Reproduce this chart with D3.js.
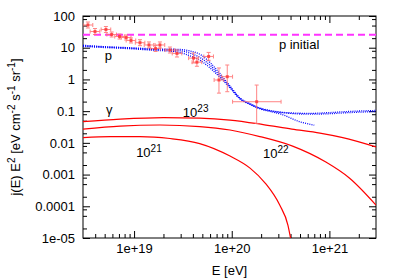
<!DOCTYPE html>
<html>
<head>
<meta charset="utf-8">
<script src="https://cdn.jsdelivr.net/npm/d3@7"></script>
<style>
body { margin: 0; background: #fff; }
text { font-family: "Liberation Sans", Arial, Helvetica, sans-serif; }
</style>
</head>
<body>
<div id="chart"></div>
<script>
// measured spectrum points (E in eV, j E^2)
const obsE   = [3.37e18, 3.98e18, 5.15e18, 5.9e18, 7.1e18, 8.3e18, 9.3e18, 1.15e19, 1.42e19, 1.66e19, 1.84e19, 2.33e19, 2.75e19, 4.06e19, 4.4e19, 5.8e19, 7.4e19, 9.0e19, 1.8e20];
const obsElo = [3.0e18, 3.55e18, 4.6e18, 5.27e18, 6.34e18, 7.4e18, 8.3e18, 1.03e19, 1.27e19, 1.48e19, 1.64e19, 2.08e19, 2.46e19, 3.62e19, 3.93e19, 5.18e19, 6.6e19, 7.9e19, 1.02e20];
const obsEhi = [3.78e18, 4.46e18, 5.77e18, 6.6e18, 7.95e18, 9.3e18, 1.04e19, 1.29e19, 1.59e19, 1.86e19, 2.06e19, 2.61e19, 3.08e19, 4.55e19, 4.93e19, 6.5e19, 8.3e19, 1.02e20, 3.2e20];
const obsJ   = [52, 32.4, 37.5, 26.1, 22.5, 21, 16.9, 14.4, 12.2, 9.4, 12.2, 8.45, 6.6, 4.7, 3.5, 5.3, 0.96, 1.22, 0.198];
const obsJlo = [41.8, 26.1, 30.2, 21.8, 18.8, 17.5, 14.1, 11.6, 9.8, 7.6, 9.8, 6.8, 5.1, 3.3, 2.6, 4.0, 0.37, 0.41, 0.041];
const obsJhi = [64.6, 40.3, 46.6, 31.3, 27, 25.2, 20.3, 17.9, 15.2, 11.7, 15.2, 10.5, 8.5, 6.8, 4.7, 7.1, 2.3, 2.85, 0.665];

// initial proton flux level
const initialJ = 25.7;

// propagated proton spectra
const protonE  = [3e18, 4.5e18, 9e18, 1.6e19, 2.3e19, 3e19, 3.7e19, 4.8e19, 6e19, 7.6e19, 9.6e19, 1.2e20, 1.55e20, 1.95e20, 2.45e20, 4e20, 6.3e20, 1e21, 1.6e21, 3e21];
const protonA  = [12, 11, 10, 9.2, 9.0, 8.8, 8.0, 6.0, 3.4, 1.5, 0.62, 0.27, 0.17, 0.125, 0.105, 0.088, 0.085, 0.09, 0.098, 0.105];
const protonB  = [11.5, 10.7, 9.7, 8.8, 8.5, 8.0, 6.8, 4.8, 2.8, 1.3, 0.58, 0.26, 0.165, 0.122, 0.103, 0.085, 0.08, 0.083, 0.09, 0.097];
const protonCE = [3e18, 4.5e18, 9e18, 1.6e19, 2.3e19, 3e19, 3.7e19, 4.8e19, 6e19, 7.6e19, 9.6e19, 1.2e20, 1.55e20, 1.95e20, 2.45e20, 3.2e20, 5e20, 7e20];
const protonC  = [11, 10.3, 9.3, 8.3, 7.8, 7.0, 5.6, 3.9, 2.3, 1.15, 0.54, 0.25, 0.16, 0.118, 0.098, 0.08, 0.046, 0.036];

// photon spectra for the three cases
const gamma23E = [3e18, 7.2e18, 2e19, 4.7e19, 9.6e19, 2.1e20, 4.13e20, 8e20, 1.37e21, 3e21];
const gamma23  = [0.047, 0.0563, 0.0628, 0.0605, 0.0524, 0.0378, 0.0272, 0.0204, 0.0147, 0.0075];
const gamma22E = [3e18, 7.2e18, 1.84e19, 4.7e19, 9.6e19, 1.94e20, 4.2e20, 9.2e20, 1.6e21, 3e21];
const gamma22  = [0.0272, 0.0339, 0.0365, 0.0327, 0.0254, 0.0158, 0.0079, 0.00248, 7.8e-4, 1.09e-4];
const gamma21E = [3e18, 5.7e18, 1.15e19, 2.33e19, 4.7e19, 9.6e19, 1.54e20, 2.2e20, 3.1e20, 3.76e20, 4.04e20];
const gamma21  = [0.0147, 0.0158, 0.0158, 0.0137, 0.0095, 0.00384, 0.0016, 5.4e-4, 1.09e-4, 2.55e-5, 8.6e-6];

// axis ticks
const xMajor = [1e19, 1e20, 1e21];
const xMajorLabels = ["1e+19", "1e+20", "1e+21"];
const yMajor = [1e-5, 1e-4, 1e-3, 0.01, 0.1, 1, 10, 100];
const yMajorLabels = ["1e-05", "0.0001", "0.001", "0.01", "0.1", "1", "10", "100"];

// annotations (anchored in data units)
const notes = [
    {E: 5.0e18, J: 4.1, parts: [["p", 0]]},
    {E: 5.15e18, J: 0.081, parts: [["\u03b3", 0]]},
    {E: 3.04e20, J: 9.1, parts: [["p initial", 0]]},
    {E: 3.16e19, J: 0.065, parts: [["10", 0], ["23", 1]]},
    {E: 1.05e19, J: 0.00357, parts: [["10", 0], ["21", 1]]},
    {E: 2.09e20, J: 0.0033, parts: [["10", 0], ["22", 1]]}
];

let margin = {top: 16, right: 23, bottom: 41, left: 83},
    width = 399 - margin.left - margin.right,
    height = 279 - margin.top - margin.bottom;

let svg = d3.select("#chart").append("svg")
    .attr("width", 399)
    .attr("height", 279);

let g = svg.append("g").attr("transform", "translate(" + margin.left + "," + margin.top + ")");

let xScale = d3.scaleLog().domain([3e18, 3e21]).range([0, width]);
let yScale = d3.scaleLog().domain([1e-5, 100]).range([height, 0]);

let xMinor = [];
for (let p = 18; p <= 21; p++)
    for (let m = 2; m <= 9; m++) {
        let v = m * Math.pow(10, p);
        if (v > 3e18 && v < 3e21) xMinor.push(v);
    }
let yMinor = [];
for (let p = -5; p < 2; p++)
    [2, 5, 8].forEach((m) => yMinor.push(m * Math.pow(10, p)));

function styleAxis(sel)
{
    sel.select(".domain").remove();
    sel.attr("font-size", 13).attr("font-family", "Liberation Sans, Arial, sans-serif");
}

//bottom and top axes
g.append("g").attr("transform", "translate(0," + height + ")")
    .call(d3.axisBottom(xScale).tickValues(xMajor).tickFormat((d, i) => xMajorLabels[i]).tickSizeInner(-7).tickSizeOuter(0).tickPadding(6))
    .call(styleAxis);
g.append("g").attr("transform", "translate(0," + height + ")")
    .call(d3.axisBottom(xScale).tickValues(xMinor).tickFormat("").tickSizeInner(-4).tickSizeOuter(0))
    .call(styleAxis);
g.append("g")
    .call(d3.axisTop(xScale).tickValues(xMajor).tickFormat("").tickSizeInner(-7).tickSizeOuter(0))
    .call(styleAxis);
g.append("g")
    .call(d3.axisTop(xScale).tickValues(xMinor).tickFormat("").tickSizeInner(-4).tickSizeOuter(0))
    .call(styleAxis);

//left and right axes
g.append("g")
    .call(d3.axisLeft(yScale).tickValues(yMajor).tickFormat((d, i) => yMajorLabels[i]).tickSizeInner(-7).tickSizeOuter(0).tickPadding(8))
    .call(styleAxis);
g.append("g")
    .call(d3.axisLeft(yScale).tickValues(yMinor).tickFormat("").tickSizeInner(-4).tickSizeOuter(0))
    .call(styleAxis);
g.append("g").attr("transform", "translate(" + width + ",0)")
    .call(d3.axisRight(yScale).tickValues(yMajor).tickFormat("").tickSizeInner(-7).tickSizeOuter(0))
    .call(styleAxis);
g.append("g").attr("transform", "translate(" + width + ",0)")
    .call(d3.axisRight(yScale).tickValues(yMinor).tickFormat("").tickSizeInner(-4).tickSizeOuter(0))
    .call(styleAxis);

g.append("rect")
    .attr("width", width).attr("height", height)
    .attr("fill", "none").attr("stroke", "#000").attr("stroke-width", 1);

svg.append("clipPath").attr("id", "plotclip")
    .append("rect").attr("width", width).attr("height", height);

let plot = g.append("g").attr("clip-path", "url(#plotclip)");

let line = d3.line()
    .x((d) => xScale(d[0]))
    .y((d) => yScale(d[1]))
    .curve(d3.curveMonotoneX);

//initial flux
plot.append("path")
    .datum([[3e18, initialJ], [3e21, initialJ]])
    .attr("d", line)
    .attr("fill", "none")
    .attr("stroke", "#ff33ff")
    .attr("stroke-width", 2)
    .attr("stroke-dasharray", "7,4");

//photon curves
[[gamma23E, gamma23], [gamma22E, gamma22], [gamma21E, gamma21]].forEach((c) => {
    plot.append("path")
        .datum(c[0].map((e, i) => [e, c[1][i]]))
        .attr("d", line)
        .attr("fill", "none")
        .attr("stroke", "#ff0000")
        .attr("stroke-width", 1.2);
});

//proton curves
[[protonE, protonA], [protonE, protonB], [protonCE, protonC]].forEach((c) => {
    plot.append("path")
        .datum(c[0].map((e, i) => [e, c[1][i]]))
        .attr("d", line)
        .attr("fill", "none")
        .attr("stroke", "#0000ff")
        .attr("stroke-width", 1.3)
        .attr("stroke-dasharray", "1,1.2");
});

//data points with error bars
let pts = obsE.map((e, i) => ({E: e, J: obsJ[i], El: obsElo[i], Eh: obsEhi[i], Jl: obsJlo[i], Jh: obsJhi[i]}));
let bars = plot.append("g").attr("stroke", "#ff7070").attr("stroke-width", 1).attr("opacity", 0.85);
pts.forEach((d) => {
    let cx = xScale(d.E), cy = yScale(d.J);
    let x0 = xScale(d.El), x1 = xScale(d.Eh), y0 = yScale(d.Jl), y1 = yScale(d.Jh);
    bars.append("line").attr("x1", x0).attr("x2", x1).attr("y1", cy).attr("y2", cy);
    bars.append("line").attr("x1", cx).attr("x2", cx).attr("y1", y0).attr("y2", y1);
    bars.append("line").attr("x1", x0).attr("x2", x0).attr("y1", cy - 2).attr("y2", cy + 2);
    bars.append("line").attr("x1", x1).attr("x2", x1).attr("y1", cy - 2).attr("y2", cy + 2);
    bars.append("line").attr("x1", cx - 2).attr("x2", cx + 2).attr("y1", y0).attr("y2", y0);
    bars.append("line").attr("x1", cx - 2).attr("x2", cx + 2).attr("y1", y1).attr("y2", y1);
});
plot.selectAll("rect.pt")
    .data(pts)
    .enter().append("rect")
    .attr("class", "pt")
    .attr("x", (d) => xScale(d.E) - 1.5)
    .attr("y", (d) => yScale(d.J) - 1.5)
    .attr("width", 3).attr("height", 3)
    .attr("fill", "#ff3030").attr("opacity", 0.8);

//annotations
notes.forEach((n) => {
    let t = g.append("text")
        .attr("x", xScale(n.E))
        .attr("y", yScale(n.J))
        .attr("font-size", 13)
        .attr("fill", "#000");
    n.parts.forEach((p) => {
        if (p[1])
            t.append("tspan").attr("font-size", 10).attr("dy", -5).text(p[0]);
        else
            t.append("tspan").text(p[0]);
    });
});

//axis titles
svg.append("text")
    .attr("x", margin.left + width / 2)
    .attr("y", 275)
    .attr("text-anchor", "middle")
    .attr("font-size", 13)
    .text("E [eV]");

let yt = svg.append("text")
    .attr("transform", "translate(20," + (margin.top + height / 2) + ") rotate(-90)")
    .attr("text-anchor", "middle")
    .attr("font-size", 13);
[["j(E) E", 0], ["2", 1], [" [eV cm", 0], ["-2", 1], [" s", 0], ["-1", 1], [" sr", 0], ["-1", 1], ["]", 0]].forEach((p) => {
    if (p[1])
        yt.append("tspan").attr("font-size", 10).attr("dy", -5).text(p[0]);
    else
        yt.append("tspan").attr("dy", 5).text(p[0]);
});
yt.select("tspan").attr("dy", 0);
</script>
</body>
</html>
